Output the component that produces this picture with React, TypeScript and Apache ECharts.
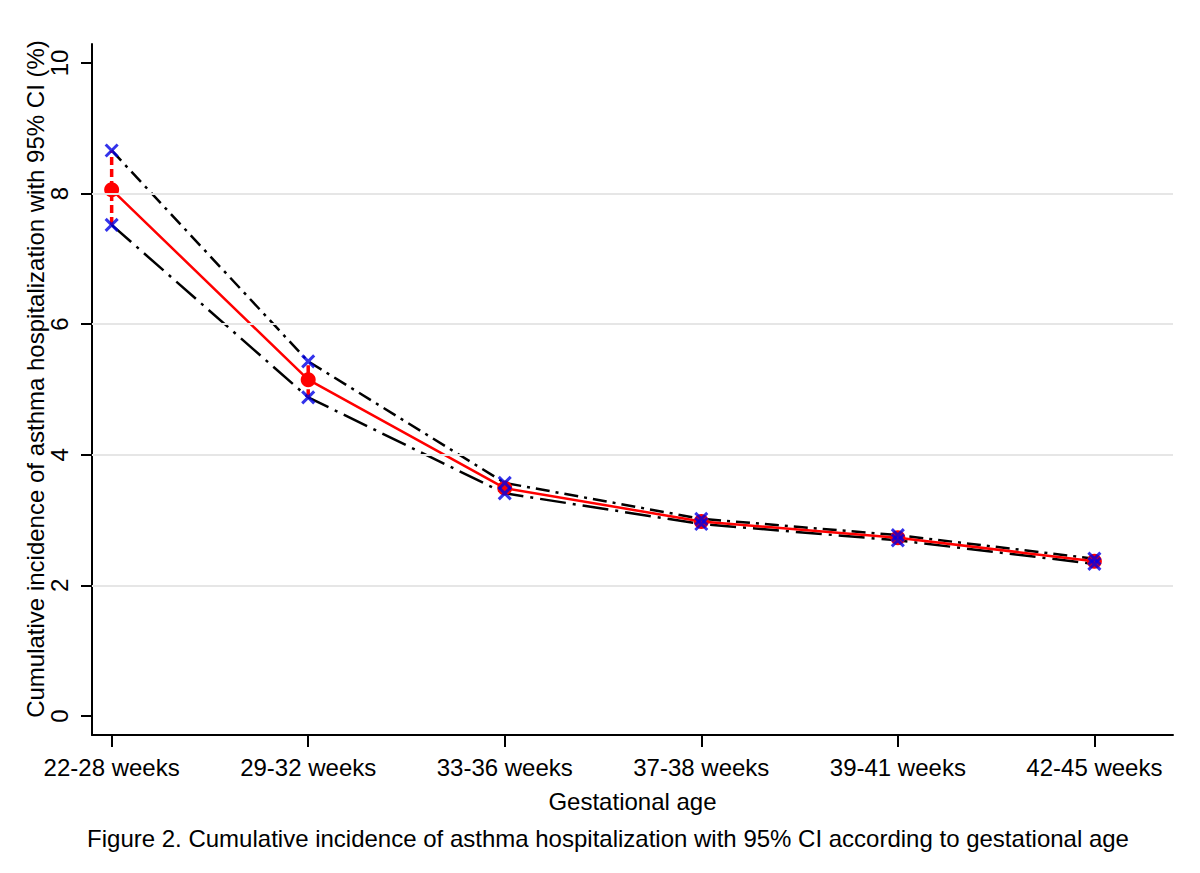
import React, { useEffect, useRef } from "react";
import * as echarts from "echarts";

const categories = ["22-28 weeks", "29-32 weeks", "33-36 weeks", "37-38 weeks", "39-41 weeks", "42-45 weeks"];
const estimate = [8.06, 5.15, 3.49, 2.98, 2.73, 2.37];
const upperCI = [8.66, 5.43, 3.57, 3.02, 2.77, 2.41];
const lowerCI = [7.52, 4.88, 3.41, 2.94, 2.69, 2.33];
const yTicks = [0, 2, 4, 6, 8, 10];
const gridValues = [2, 4, 6, 8];
const xTicks = categories.map((_, i) => i);

const FONT = "'Liberation Sans', Arial, sans-serif";
const X_SYMBOL = "path://M0,0L10,10M10,0L0,10";

export default function App() {
  const ref = useRef<HTMLDivElement>(null);
  useEffect(() => {
    document.body.style.margin = "0";
    if (!ref.current) return;
    const chart = echarts.init(ref.current, undefined, { renderer: "svg" });
    const idx = categories.map((_, i) => i);
    chart.setOption({
      animation: false,
      backgroundColor: "#ffffff",
      textStyle: { fontFamily: FONT, color: "#000" },
      grid: { left: 92, right: 27, top: 44, bottom: 138, containLabel: false },
      xAxis: {
        type: "value",
        min: -0.1,
        max: 5.4,
        name: "Gestational age",
        nameLocation: "middle",
        nameGap: 54,
        nameTextStyle: { fontSize: 24, color: "#000", fontFamily: FONT },
        axisLine: { show: true, onZero: false, lineStyle: { color: "#000", width: 2 } },
        axisTick: { show: true, customValues: xTicks, length: 12, lineStyle: { color: "#000", width: 2 } },
        axisLabel: {
          customValues: xTicks,
          formatter: (v: number) => categories[Math.round(v)] ?? "",
          fontSize: 24,
          color: "#000",
          fontFamily: FONT,
          margin: 20,
        },
        splitLine: { show: false },
      },
      yAxis: {
        type: "value",
        min: -0.29,
        max: 10.29,
        axisLine: { show: true, onZero: false, lineStyle: { color: "#000", width: 2 } },
        axisTick: { show: true, customValues: yTicks, length: 11, lineStyle: { color: "#000", width: 2 } },
        axisLabel: {
          customValues: yTicks,
          rotate: 90,
          fontSize: 24,
          color: "#000",
          fontFamily: FONT,
          margin: 21,
        },
        splitLine: { show: false },
      },
      graphic: [
        {
          type: "text",
          x: 35,
          y: 379,
          rotation: Math.PI / 2,
          style: {
            text: "Cumulative incidence of asthma hospitalization with 95% CI (%)",
            fontSize: 24,
            fontFamily: FONT,
            fill: "#000",
            textAlign: "center",
            textVerticalAlign: "middle",
          },
        },
        {
          type: "text",
          x: 608,
          y: 838,
          style: {
            text: "Figure 2. Cumulative incidence of asthma hospitalization with 95% CI according to gestational age",
            fontSize: 24,
            fontFamily: FONT,
            fill: "#000",
            textAlign: "center",
            textVerticalAlign: "middle",
          },
        },
      ],
      series: [
        {
          name: "grid",
          type: "line",
          data: [],
          z: 0,
          silent: true,
          markLine: {
            silent: true,
            symbol: ["none", "none"],
            label: { show: false },
            lineStyle: { color: "#e6e6e6", width: 2, type: "solid" },
            data: gridValues.map((v) => ({ yAxis: v })),
          },
        },
        {
          name: "Upper CI",
          type: "line",
          z: 1,
          data: idx.map((i) => [i, upperCI[i]]),
          showSymbol: false,
          symbol: "none",
          lineStyle: { color: "#000", width: 2.5, type: [14, 6, 3, 6] },
        },
        {
          name: "Lower CI",
          type: "line",
          z: 1,
          data: idx.map((i) => [i, lowerCI[i]]),
          showSymbol: false,
          symbol: "none",
          lineStyle: { color: "#000", width: 2.5, type: [26, 7, 3, 7] },
        },
        {
          name: "CI bar",
          type: "custom",
          z: 2,
          data: idx.map((i) => [i, lowerCI[i], upperCI[i]]),
          renderItem: (params: any, api: any) => {
            const p1 = api.coord([api.value(0), api.value(1)]);
            const p2 = api.coord([api.value(0), api.value(2)]);
            return {
              type: "line",
              shape: { x1: p1[0], y1: p1[1], x2: p2[0], y2: p2[1] },
              style: { stroke: "#ff0000", lineWidth: 3.5, lineDash: [8, 4] },
            };
          },
        },
        {
          name: "Estimate",
          type: "line",
          z: 3,
          data: idx.map((i) => [i, estimate[i]]),
          symbol: "circle",
          symbolSize: 15,
          itemStyle: { color: "#ff0000" },
          lineStyle: { color: "#ff0000", width: 2.5 },
        },
        {
          name: "CI markers",
          type: "scatter",
          z: 4,
          data: idx.flatMap((i) => [[i, upperCI[i]], [i, lowerCI[i]]]),
          symbol: X_SYMBOL,
          symbolSize: 12,
          itemStyle: { color: "none", borderColor: "#0000e6", borderWidth: 3 },
        },
      ],
    });
    return () => chart.dispose();
  }, []);
  return <div ref={ref} style={{ width: 1200, height: 873 }} />;
}
